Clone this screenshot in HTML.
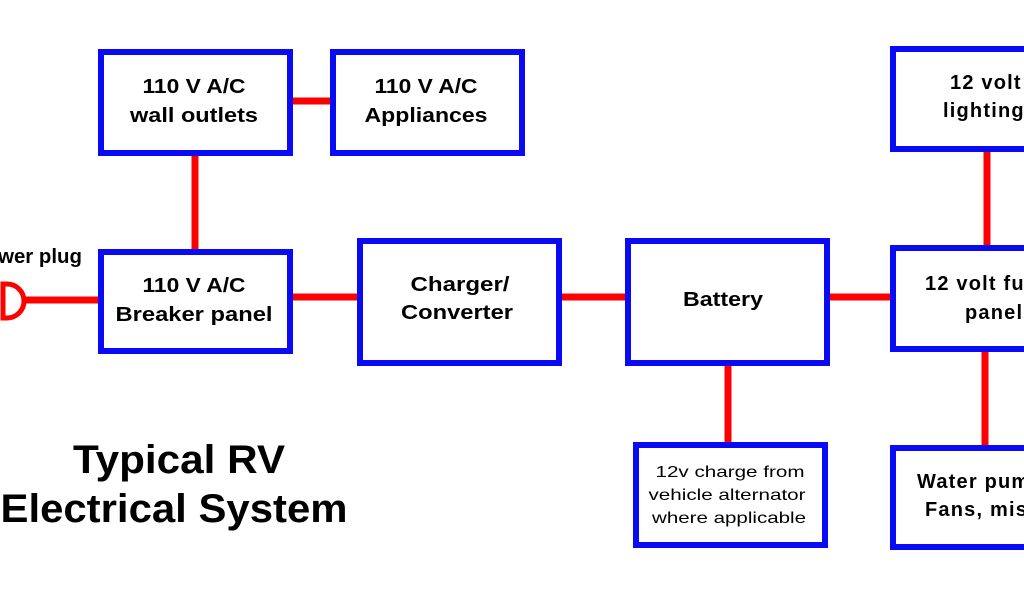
<!DOCTYPE html>
<html><head><meta charset="utf-8"><style>
html,body{margin:0;padding:0;background:#fff;width:1024px;height:600px;overflow:hidden}
svg{display:block}
text{font-family:"Liberation Sans",Arial,sans-serif;font-weight:bold;fill:#000}
</style></head><body>
<svg width="1024" height="600" viewBox="0 0 1024 600" xmlns="http://www.w3.org/2000/svg">
<g stroke="#ff0000" stroke-width="7" fill="none">
<line x1="292" y1="101" x2="331" y2="101"/>
<line x1="195" y1="155" x2="195" y2="250"/>
<line x1="22" y1="300" x2="100" y2="300"/>
<line x1="290" y1="297" x2="360" y2="297"/>
<line x1="560" y1="297" x2="627" y2="297"/>
<line x1="828" y1="297" x2="892" y2="297"/>
<line x1="728" y1="362" x2="728" y2="444"/>
<line x1="987" y1="150" x2="987" y2="246"/>
<line x1="985" y1="350" x2="985" y2="446"/>
<path d="M3 284 H7 A16 16 0 0 1 7 318 H3 Z" stroke-width="5"/>
</g>
<g stroke="#0a0af5" stroke-width="6" fill="#fff">
<rect x="101" y="52" width="189" height="101"/>
<rect x="333" y="52" width="189" height="101"/>
<rect x="101" y="252" width="189" height="99"/>
<rect x="360" y="241" width="199" height="122"/>
<rect x="628" y="241" width="199" height="122"/>
<rect x="893" y="49" width="194" height="100"/>
<rect x="893" y="248" width="194" height="101"/>
<rect x="636" y="445" width="189" height="100"/>
<rect x="893" y="448" width="194" height="99"/>
</g>
<g font-size="20" text-anchor="middle" lengthAdjust="spacingAndGlyphs">
<text x="194" y="93" textLength="103" lengthAdjust="spacingAndGlyphs">110 V A/C</text>
<text x="194" y="122" textLength="128" lengthAdjust="spacingAndGlyphs">wall outlets</text>
<text x="426" y="93" textLength="103" lengthAdjust="spacingAndGlyphs">110 V A/C</text>
<text x="426" y="122" textLength="123" lengthAdjust="spacingAndGlyphs">Appliances</text>
<text x="194" y="292" textLength="103" lengthAdjust="spacingAndGlyphs">110 V A/C</text>
<text x="194" y="321" textLength="157" lengthAdjust="spacingAndGlyphs">Breaker panel</text>
<text x="460" y="291" textLength="99" lengthAdjust="spacingAndGlyphs">Charger/</text>
<text x="457" y="319" textLength="112" lengthAdjust="spacingAndGlyphs">Converter</text>
<text x="723" y="306" textLength="80" lengthAdjust="spacingAndGlyphs">Battery</text>
</g>
<g font-size="20" style="letter-spacing:1.2px">
<text x="950" y="89">12 volt</text>
<text x="943" y="117">lighting</text>
<text x="925" y="290">12 volt fuse</text>
<text x="965" y="319">panel</text>
<text x="917" y="488">Water pump,</text>
<text x="925" y="516">Fans, misc</text>
</g>
<text x="-28" y="263" font-size="20" textLength="110" lengthAdjust="spacingAndGlyphs">Power plug</text>
<g font-size="16" text-anchor="middle">
<text x="730" y="477" style="font-weight:normal" textLength="149" lengthAdjust="spacingAndGlyphs">12v charge from</text>
<text x="727" y="500" style="font-weight:normal" textLength="157" lengthAdjust="spacingAndGlyphs">vehicle alternator</text>
<text x="729" y="523" style="font-weight:normal" textLength="154" lengthAdjust="spacingAndGlyphs">where applicable</text>
</g>
<g font-size="40" text-anchor="middle">
<text x="179" y="473" textLength="212" lengthAdjust="spacingAndGlyphs">Typical RV</text>
<text x="174" y="522" textLength="347" lengthAdjust="spacingAndGlyphs">Electrical System</text>
</g>
</svg>
</body></html>
